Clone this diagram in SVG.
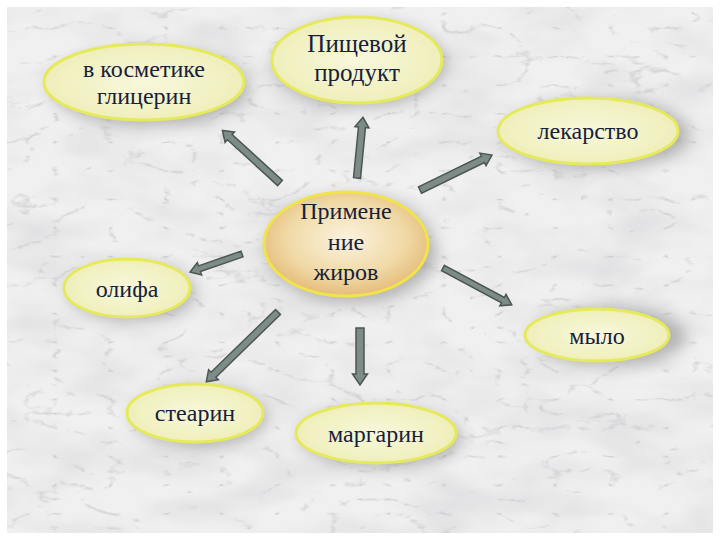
<svg xmlns="http://www.w3.org/2000/svg" width="720" height="540" viewBox="0 0 720 540">
  <defs>
    <filter id="marble" x="0" y="0" width="100%" height="100%">
      <feTurbulence type="turbulence" baseFrequency="0.018 0.035" numOctaves="4" seed="11" result="n"/>
      <feColorMatrix in="n" type="matrix" values="0 0 0 0 0.58  0 0 0 0 0.58  0 0 0 0 0.6  -5 0 0 0 0.8" result="veins"/>
      <feTurbulence type="fractalNoise" baseFrequency="0.012 0.025" numOctaves="3" seed="3" result="c"/>
      <feColorMatrix in="c" type="matrix" values="0 0 0 0 0.72  0 0 0 0 0.72  0 0 0 0 0.74  0 0 0 -1.6 1.0" result="clouds"/>
      <feFlood flood-color="#f0f0f0" result="bg"/>
      <feComposite in="clouds" in2="bg" operator="over" result="m1"/>
      <feComposite in="veins" in2="m1" operator="over" result="m"/>
      <feComposite in="m" in2="SourceGraphic" operator="in"/>
    </filter>
    <filter id="shadow" x="-30%" y="-30%" width="160%" height="160%">
      <feGaussianBlur stdDeviation="8"/>
    </filter>
    <radialGradient id="nodeFill" cx="50%" cy="50%" r="55%">
      <stop offset="0" stop-color="#f8f8dc"/>
      <stop offset="1" stop-color="#eeeeb8"/>
    </radialGradient>
    <radialGradient id="centerFill" cx="50%" cy="45%" r="60%">
      <stop offset="0" stop-color="#fbf3df"/>
      <stop offset="0.6" stop-color="#f0d9a6"/>
      <stop offset="1" stop-color="#e2b46e"/>
    </radialGradient>
    <style>
      .node { fill: url(#nodeFill); stroke: #e6ea5a; stroke-width: 3; }
      .center { fill: url(#centerFill); stroke: #f0e44a; stroke-width: 3; }
      .sh { fill: #7a7a7a; opacity: 0.5; filter: url(#shadow); }
      .lbl { font-family: "Liberation Serif", "Times New Roman", serif; font-size: 24px; fill: #17203a; text-anchor: middle; }
      .arrow { fill: #7d8c86; stroke: #4a5652; stroke-width: 1.5; stroke-linejoin: miter; }
    </style>
  </defs>

  <rect x="0" y="0" width="720" height="540" fill="#ffffff"/>
  <rect x="7" y="7" width="706" height="526" fill="#000" filter="url(#marble)"/>

  <g id="shadows">
    <ellipse class="sh" cx="150" cy="88" rx="100" ry="38"/>
    <ellipse class="sh" cx="360" cy="64" rx="86" ry="43"/>
    <ellipse class="sh" cx="598" cy="134" rx="92" ry="35"/>
    <ellipse class="sh" cx="352" cy="250" rx="84" ry="54"/>
    <ellipse class="sh" cx="132" cy="292" rx="63" ry="29"/>
    <ellipse class="sh" cx="610" cy="336" rx="76" ry="30"/>
    <ellipse class="sh" cx="200" cy="417" rx="68" ry="29"/>
    <ellipse class="sh" cx="382" cy="438" rx="80" ry="30"/>
  </g>

  <g id="connectors">
    <path class="arrow" transform="translate(280,183) rotate(-137.6)" d="M0,-3.5 L68,-3.5 L68,-7 L78,0 L68,7 L68,3.5 L0,3.5 Z"/>
    <path class="arrow" transform="translate(357,178) rotate(-84.4)" d="M0,-3.5 L51,-3.5 L51,-7 L61,0 L51,7 L51,3.5 L0,3.5 Z"/>
    <path class="arrow" transform="translate(420,190) rotate(-25.9)" d="M0,-3.5 L70,-3.5 L70,-7 L80,0 L70,7 L70,3.5 L0,3.5 Z"/>
    <path class="arrow" transform="translate(242,254) rotate(160.9)" d="M0,-3 L45,-3 L45,-6.5 L55,0 L45,6.5 L45,3 L0,3 Z"/>
    <path class="arrow" transform="translate(443,268) rotate(28.2)" d="M0,-3 L68,-3 L68,-6.5 L78,0 L68,6.5 L68,3 L0,3 Z"/>
    <path class="arrow" transform="translate(278,312) rotate(135.8)" d="M0,-3.5 L90,-3.5 L90,-7 L100,0 L90,7 L90,3.5 L0,3.5 Z"/>
    <path class="arrow" transform="translate(360,328) rotate(90)" d="M0,-4 L46,-4 L46,-7.5 L57,0 L46,7.5 L46,4 L0,4 Z"/>
  </g>

  <g id="node-glycerin">
    <ellipse class="node" cx="144" cy="82" rx="100" ry="38"/>
    <text class="lbl" x="144" y="77">в косметике</text>
    <text class="lbl" x="144" y="104">глицерин</text>
  </g>
  <g id="node-food">
    <ellipse class="node" cx="357" cy="60" rx="85" ry="43"/>
    <text class="lbl" x="357" y="52" style="font-size:25px">Пищевой</text>
    <text class="lbl" x="357" y="81" style="font-size:25px">продукт</text>
  </g>
  <g id="node-medicine">
    <ellipse class="node" cx="588" cy="131" rx="90" ry="33"/>
    <text class="lbl" x="588" y="139">лекарство</text>
  </g>
  <g id="node-center">
    <ellipse class="center" cx="346" cy="244" rx="82" ry="52"/>
    <text class="lbl" x="346" y="219" style="font-size:24px">Примене</text>
    <text class="lbl" x="346" y="250" style="font-size:24px">ние</text>
    <text class="lbl" x="346" y="280" style="font-size:24px">жиров</text>
  </g>
  <g id="node-olifa">
    <ellipse class="node" cx="127" cy="288" rx="63" ry="29"/>
    <text class="lbl" x="127" y="297">олифа</text>
  </g>
  <g id="node-soap">
    <ellipse class="node" cx="597" cy="335" rx="72" ry="26"/>
    <text class="lbl" x="597" y="344">мыло</text>
  </g>
  <g id="node-stearin">
    <ellipse class="node" cx="195" cy="413" rx="68" ry="29"/>
    <text class="lbl" x="195" y="421">стеарин</text>
  </g>
  <g id="node-margarine">
    <ellipse class="node" cx="376" cy="433" rx="80" ry="30"/>
    <text class="lbl" x="376" y="442">маргарин</text>
  </g>
</svg>
